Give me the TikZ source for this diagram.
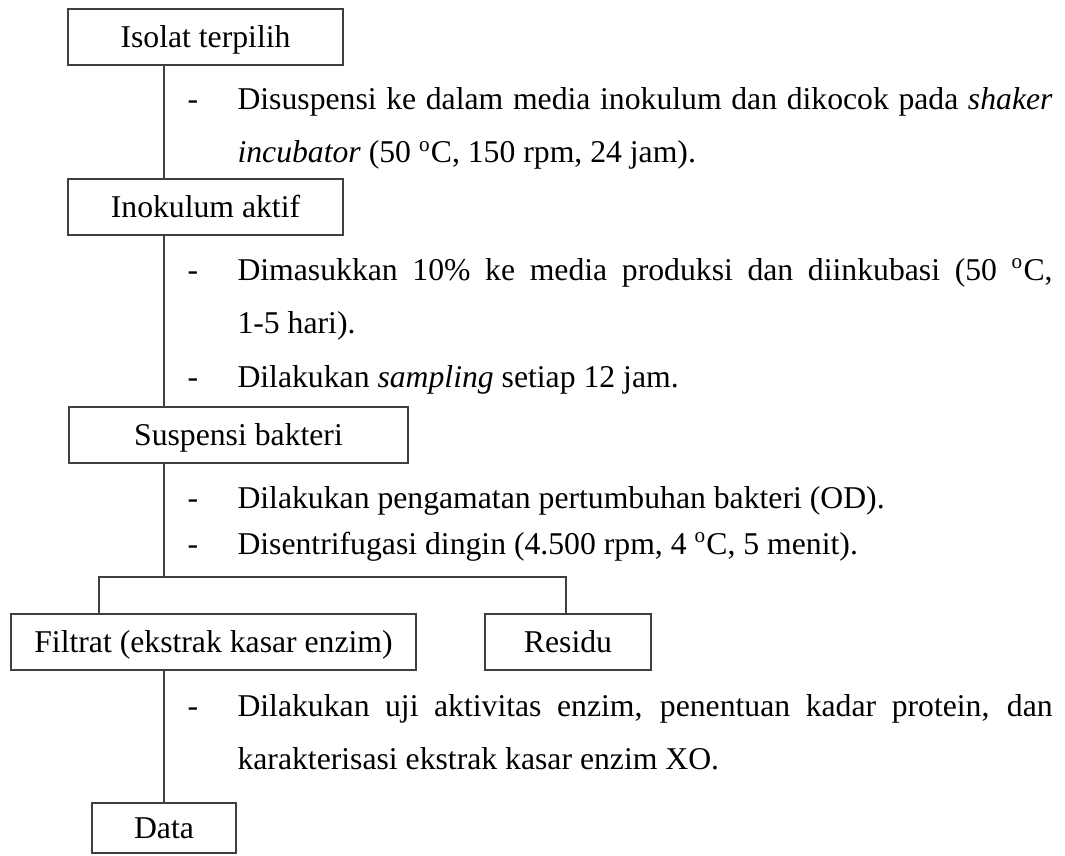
\documentclass[tikz,border=0pt]{standalone}
\usepackage{fontspec}
\setmainfont{Liberation Serif}
\newcommand{\procwidth}{308.5pt}
\begin{document}
\begin{tikzpicture}[x=0.3785pt, y=-0.3785pt,
    font=\fontsize{12}{20}\selectfont,
    box/.style={draw=black!75, line width=0.5pt, minimum height=21.2pt, inner xsep=2pt, inner ysep=1pt,
        text height=12.3pt, text depth=4.7pt},
    link/.style={draw=black!75, line width=0.5pt},
    proc/.style={anchor=base west, inner sep=0pt}]
    \useasboundingbox (0,0) rectangle (1065,856);

    \coordinate (spine) at (164,0);
    \coordinate (lbar) at (99,577);
    \coordinate (rbar) at (566,577);

    % Boxes
    \foreach \n/\x/\y/\w/\t in {isolat/205.5/37/275/Isolat terpilih, inokulum/205.5/207/275/Inokulum aktif, suspensi/238.5/435/339/Suspensi bakteri, filtrat/213.5/642/405/Filtrat (ekstrak kasar enzim), residu/568/642/166/Residu}
        \node[box, minimum width=\w*0.3785pt] (\n) at (\x,\y) {\t};
    \node[box, minimum width=54.5pt, minimum height=18.9pt] (data) at (164,828) {Data};

    % Links
    \draw[link] (isolat.south -| spine) -- (inokulum.north -| spine);
    \draw[link] (inokulum.south -| spine) -- (suspensi.north -| spine);
    \draw[link] (suspensi.south -| spine) -- (lbar -| spine);
    \draw[link] (filtrat.north -| lbar) |- (rbar) -- (residu.north -| rbar);
    \draw[link] (filtrat.south -| spine) -- (data.north);

    % Steps
    \foreach \y in {110,280,387,508,554,716}
        \node[anchor=base, inner sep=0pt] (dash\y) at (193,\y) {-};
    \node[proc] (s1a) at (237,110) {\makebox[\procwidth][s]{Disuspensi ke dalam media inokulum dan dikocok pada \textit{shaker}}};
    \node[proc] (s1b) at (237,163) {\textit{incubator} (50 \textsuperscript{o}C, 150 rpm, 24 jam).};
    \node[proc] (s2a) at (237,280) {\makebox[\procwidth][s]{Dimasukkan 10\% ke media produksi dan diinkubasi (50 \textsuperscript{o}C,}};
    \node[proc] (s2b) at (237,333) {1-5 hari).};
    \node[proc] (s3) at (237,387) {Dilakukan \textit{sampling} setiap 12 jam.};
    \node[proc] (s4) at (237,508) {Dilakukan pengamatan pertumbuhan bakteri (OD).};
    \node[proc] (s5) at (237,554) {Disentrifugasi dingin (4.500 rpm, 4 \textsuperscript{o}C, 5 menit).};
    \node[proc] (s6a) at (237,716) {\makebox[\procwidth][s]{Dilakukan uji aktivitas enzim, penentuan kadar protein, dan}};
    \node[proc] (s6b) at (237,769) {karakterisasi ekstrak kasar enzim XO.};
\end{tikzpicture}
\end{document}
